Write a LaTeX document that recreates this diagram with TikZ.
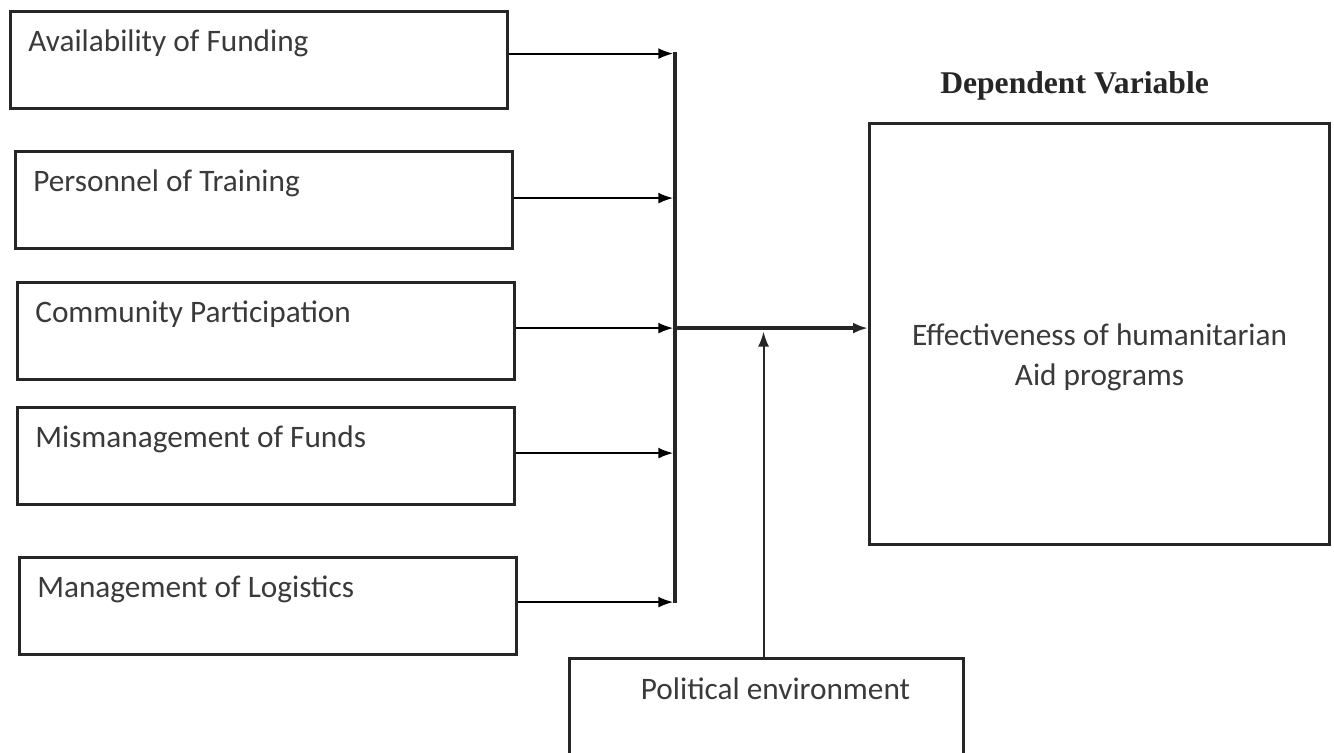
\documentclass[tikz,border=0pt]{standalone}
\usepackage{fontspec}
\setmainfont{Carlito}
\newfontfamily\headfont{Liberation Serif}
\usetikzlibrary{positioning,arrows.meta}
\definecolor{ink}{HTML}{262626}
\definecolor{inktext}{HTML}{3A3A3A}
\tikzstyle{varbox}=[draw=ink,line width=1.8pt,anchor=north west,inner sep=0pt,
    minimum width=9.94cm,minimum height=1.94cm]
\tikzstyle{vartext}=[anchor=west,inner sep=0pt,text=inktext,font=\fontsize{17.8}{22}\selectfont]
\newcommand{\newVar}[3]{\node[varbox](#1) at (#2){};
    \node[vartext](#1txt) at ([xshift=0.38cm,yshift=-0.66cm]#1.north west){#3};}
\newcommand{\newLink}[3]{\draw[->,line width=1.1pt,shorten >=1pt] ([yshift=#3]#1.east) -- ([yshift=#3]#1.east -| #2);}

\begin{document}
\begin{tikzpicture}[x=0.02cm,y=-0.02cm,
    >={Latex[length=0.3cm,width=0.22cm]},
    node distance=0.42cm and 1cm
    ]
    \useasboundingbox (0,0) rectangle (1334,752);
    \clip (0,0) rectangle (1334,752);
    \newVar{fund}{9,10}{Availability of Funding}
    \newVar{train}{14,150}{Personnel of Training}
    \newVar{comm}{16,281}{Community Participation}
    \newVar{mism}{16,406}{Mismanagement of Funds}
    \newVar{logi}{18,556}{Management of Logistics}
    \coordinate (barx) at (675,0);
    \newLink{fund}{barx}{0.13cm}
    \newLink{train}{barx}{0.04cm}
    \newLink{comm}{barx}{0.06cm}
    \newLink{mism}{barx}{0.06cm}
    \newLink{logi}{barx}{0.08cm}
    \draw[draw=ink,line width=2.8pt] ([yshift=0.16cm]fund.east -| barx) -- ([yshift=0.06cm]logi.east -| barx);
    \coordinate (hub) at ([yshift=0.06cm]comm.east -| barx);
    \node[varbox,minimum width=9.2cm,minimum height=8.42cm,
        label={[align=center,yshift=-0.46cm,text=inktext,font=\fontsize{17.8}{22.7}\selectfont]center:Effectiveness of humanitarian\\Aid programs}]
        (eff) at (868,122){};
    \node[above=of eff,xshift=-0.5cm,inner sep=0pt,text=ink,font=\headfont\bfseries\fontsize{18}{22}\selectfont] (dep) {Dependent Variable};
    \draw[->,draw=ink,line width=2.3pt] (hub) -- (hub -| eff.west);
    \node[varbox,minimum width=7.88cm,minimum height=2cm] (pol) at (568,657){};
    \node[vartext,anchor=center] (poltxt) at ([xshift=0.18cm,yshift=-0.64cm]pol.north){Political environment};
    \draw[->,draw=ink,line width=1.1pt,shorten >=2pt] ([xshift=-0.06cm]pol.north) -- ([xshift=-0.06cm]pol.north |- hub);
  \end{tikzpicture}
\end{document}
